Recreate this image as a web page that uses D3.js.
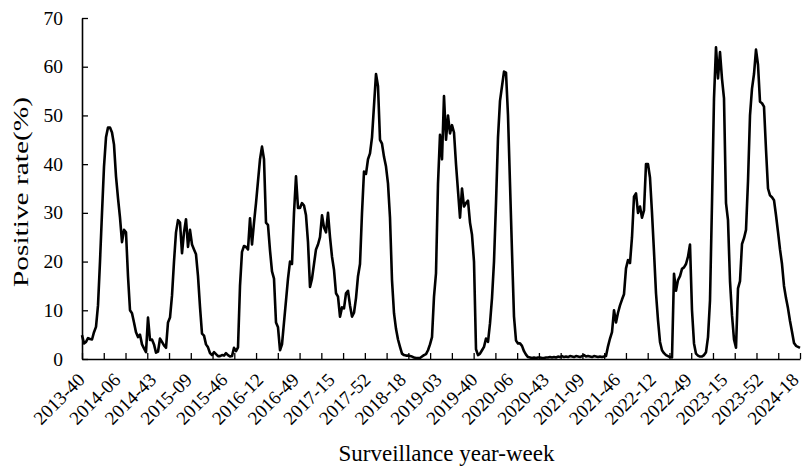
<!DOCTYPE html>
<html>
<head>
<meta charset="utf-8">
<script src="https://cdn.jsdelivr.net/npm/d3@7"></script>
<style>
  body { margin: 0; background: #fff; }
  svg { display: block; }
  .info { font-family: 'Times New Roman', 'Liberation Serif', serif; fill: #000; }
</style>
</head>
<body>
<div id="main"></div>
<script>
// weekly labels shown under the axis
const weekLabels = ['2013-40', '2014-06', '2014-43', '2015-09', '2015-46', '2016-12', '2016-49',
  '2017-15', '2017-52', '2018-18', '2019-03', '2019-40', '2020-06', '2020-43', '2021-09',
  '2021-46', '2022-12', '2022-49', '2023-15', '2023-52', '2024-18'];

const yTicks = [0, 10, 20, 30, 40, 50, 60, 70];

// positive rate (%)
const rate2013to2016 = [
  4.9, 3.2, 3.5, 4.3, 4.1, 4.0, 5.5, 6.6, 11, 20,
  30, 39.5, 45.5, 47.5, 47.5, 46.5, 44, 37.5, 33, 29,
  24, 26.5, 26, 17, 10, 9.4, 7.5, 5.5, 4.5, 5,
  3, 2.2, 1.4, 8.5, 3.9, 4, 3, 1.3, 1.5, 4.2,
  3.5, 2.8, 2.3, 7.5, 8.5, 13, 20, 26, 28.5, 28,
  21.7, 26, 28.7, 23, 26.5, 23.5, 22.5, 21.5, 17, 10.7,
  5.2, 4.8, 3, 2.4, 1.2, 0.8, 1.4, 1, 0.6, 0.6,
  0.8, 0.7];

const rate2016to2018 = [
  1.2, 0.8, 0.5, 0.6, 2.3, 1.6, 2.4, 15, 22, 23.2,
  23, 22.5, 28.9, 23.5, 28, 32, 36.5, 41, 43.6, 41,
  28, 27.5, 22.3, 18, 16.5, 7.5, 6.5, 1.8, 3, 7.5,
  12, 16.5, 20, 19.5, 30, 37.5, 31, 31, 32, 31.5,
  29.5, 24, 14.8, 16.5, 19.5, 22.5, 23.5, 25, 29.5, 27,
  26, 30, 25, 21, 18.3, 13.5, 12.8, 8.7, 10.6, 10.4,
  13.5, 14, 11, 8.7, 9.5, 12.5, 17, 19.5, 30, 38.5,
  38, 41, 42.2];

const rate2018to2020 = [
  45.5, 52, 58.5, 56, 45, 44.2, 41.5, 39.5, 36, 29,
  16.2, 9.4, 6.2, 4, 2.5, 1.1, 0.8, 0.7, 0.7, 0.6,
  0.5, 0.3, 0.2, 0.2, 0.2, 0.5, 0.8, 1, 1.8, 3,
  4.5, 12.8, 17.6, 36, 46, 41, 54, 45, 50, 46.3,
  48, 46.5, 40, 34.5, 29, 35, 31.3, 32, 32.5, 28,
  25.5, 20, 2, 0.8, 1.1, 1.8, 2.5, 4.2, 3.5, 7.3,
  12.5, 20, 32, 45.5, 53, 56, 59, 58.8, 50, 36,
  22, 8.7, 3.8, 3.2, 3.2, 2.7, 1.6, 0.9, 0.4, 0.3];

const rate2020to2022 = [
  0.2, 0.3, 0.2, 0.3, 0.3, 0.2, 0.2, 0.3, 0.3, 0.4,
  0.3, 0.4, 0.3, 0.5, 0.4, 0.6, 0.4, 0.5, 0.4, 0.6,
  0.5, 0.4, 0.6, 0.5, 0.4, 0.6, 0.8, 0.5, 0.6, 0.5,
  0.4, 0.6, 0.5, 0.4, 0.5, 0.4, 0.5, 0.6, 2.6, 4.2,
  5.5, 10, 7.5, 9.5, 11, 12.2, 13.3, 18.6, 20.3, 19.7,
  25, 33.3, 34, 30, 31.3, 29, 30.5, 40, 40, 37.2,
  30, 22, 13.5, 8, 3.5, 1.8, 1.2, 0.8, 0.6, 0.4];

const rate2022to2024 = [
  0.3, 17.5, 14, 16.2, 17, 18.5, 18.8, 19.5, 21, 23.5,
  10, 3.2, 1.1, 0.7, 0.5, 0.5, 0.8, 1.4, 4.5, 12,
  32, 53.5, 64, 57.6, 63, 57.5, 53.5, 32, 28.5, 16,
  9, 4, 2.3, 14.5, 16, 23.6, 24.8, 26.5, 36.5, 50,
  55.5, 58.5, 63.5, 60.4, 52.8, 52.5, 51.8, 43, 35, 33.6,
  33.2, 32.6, 29.5, 26.1, 22.5, 19.5, 15, 12.5, 10.4, 7.8,
  5.6, 3.3, 2.7, 2.5, 2.3];

function main(dataSet) {
  const width = 803;
  const height = 469;
  const left = 82;
  const right = 800;
  const top = 18;
  const bottom = 359;

  const xScale = d3.scaleLinear()
    .domain([0, dataSet.length - 1])
    .range([left, right]);

  const yScale = d3.scaleLinear()
    .domain([0, 70])
    .range([bottom, top]);

  const labelScale = d3.scalePoint()
    .domain(weekLabels)
    .range([left + 4, right]);

  const svg = d3.select('#main')
    .append('svg')
    .attr('width', width)
    .attr('height', height);

  // x axis: inward ticks, labels drawn separately
  const tickIdx = d3.range(34).map(k => (k * (dataSet.length - 1)) / 33);
  const xAxis = d3.axisTop(xScale)
    .tickValues(tickIdx)
    .tickFormat('')
    .tickSizeInner(6)
    .tickSizeOuter(0);

  const gx = svg.append('g')
    .attr('transform', `translate(0, ${bottom})`)
    .call(xAxis);
  gx.select('.domain').attr('stroke', '#000').attr('stroke-width', 1.6);
  gx.selectAll('.tick line').attr('stroke', '#000').attr('stroke-width', 1.3);

  const yAxis = d3.axisRight(yScale)
    .tickValues(yTicks)
    .tickFormat('')
    .tickSizeInner(6)
    .tickSizeOuter(0);

  const gy = svg.append('g')
    .attr('transform', `translate(${left}, 0)`)
    .call(yAxis);
  gy.select('.domain').attr('stroke', '#000').attr('stroke-width', 1.6);
  gy.selectAll('.tick line').attr('stroke', '#000').attr('stroke-width', 1.3);

  svg.selectAll('.ylab')
    .data(yTicks)
    .enter()
    .append('text')
    .classed('info', true)
    .attr('x', 63)
    .attr('y', d => yScale(d))
    .attr('dy', '0.34em')
    .style('font-size', '19.5px')
    .style('text-anchor', 'end')
    .text(d => d);

  svg.selectAll('.xlab')
    .data(weekLabels)
    .enter()
    .append('text')
    .classed('info', true)
    .attr('transform', d => `translate(${labelScale(d)}, 381) rotate(-45)`)
    .style('font-size', '19px')
    .style('text-anchor', 'end')
    .text(d => d);

  const line = d3.line()
    .x((d, i) => xScale(i))
    .y(d => yScale(d));

  svg.append('path')
    .datum(dataSet)
    .attr('d', line)
    .attr('fill', 'none')
    .attr('stroke', '#000')
    .attr('stroke-width', 2.6)
    .attr('stroke-linejoin', 'round');

  svg.append('text')
    .classed('info', true)
    .attr('transform', 'translate(28, 192) rotate(-90)')
    .attr('textLength', 190)
    .attr('lengthAdjust', 'spacingAndGlyphs')
    .style('font-size', '22px')
    .style('text-anchor', 'middle')
    .text('Positive rate(%)');

  svg.append('text')
    .classed('info', true)
    .attr('x', 446.5)
    .attr('y', 461)
    .style('font-size', '23px')
    .style('text-anchor', 'middle')
    .text('Surveillance year-week');
}

const dataSet = [].concat(rate2013to2016, rate2016to2018, rate2018to2020, rate2020to2022, rate2022to2024);
document.addEventListener('DOMContentLoaded', () => main(dataSet));
</script>
</body>
</html>
